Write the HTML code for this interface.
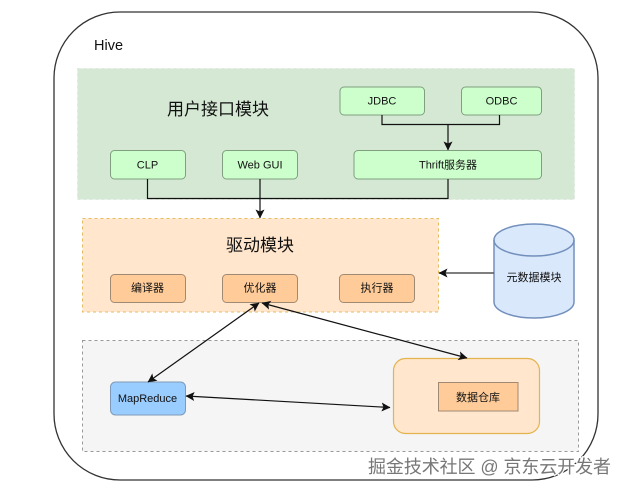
<!DOCTYPE html>
<html>
<head>
<meta charset="utf-8">
<style>
html,body{margin:0;padding:0;background:#fff}
svg{display:block}
text{font-family:"Liberation Sans","Noto Sans CJK SC",sans-serif;fill:#111}
</style>
</head>
<body>
<svg width="625" height="491" viewBox="0 0 625 491" xmlns="http://www.w3.org/2000/svg">
<defs>
<marker id="a" markerWidth="10" markerHeight="10" refX="8.500" refY="4.500" orient="auto-start-reverse" markerUnits="userSpaceOnUse">
<path d="M0 0L9 4.500L0 9L2 4.500Z" fill="#111"/>
</marker>
</defs>
<rect x="0" y="0" width="625" height="491" fill="#fff"/>
<rect x="54" y="12" width="544" height="468" rx="66" ry="66" fill="#fff" stroke="#333" stroke-width="1.300"/>
<text x="94" y="50" font-size="14.500">Hive</text>

<rect x="77.500" y="68.500" width="497" height="131" fill="#d5e8d4" stroke="#dfe9de" stroke-dasharray="3 3"/>
<text x="218" y="115" font-size="17" text-anchor="middle">用户接口模块</text>
<g fill="#ccffcc" stroke="#7f9f7f" stroke-width="1">
<rect x="110.500" y="150.500" width="75" height="28.500" rx="4"/>
<rect x="222.500" y="150.500" width="75" height="28.500" rx="4"/>
<rect x="340" y="87" width="84.500" height="28" rx="4"/>
<rect x="461.500" y="87" width="80" height="28" rx="4"/>
<rect x="354" y="150.500" width="187.500" height="28.500" rx="4"/>
</g>
<g font-size="11" text-anchor="middle">
<text x="147.500" y="168.500">CLP</text>
<text x="260" y="168.500">Web GUI</text>
<text x="382" y="104.500">JDBC</text>
<text x="501.500" y="104.500">ODBC</text>
<text x="448" y="168.500">Thrift服务器</text>
</g>

<rect x="82.500" y="218.500" width="356" height="93.500" fill="#ffe6cc" stroke="#e5bc62" stroke-dasharray="3 3"/>
<text x="260" y="251" font-size="17" text-anchor="middle">驱动模块</text>
<g fill="#ffcc99" stroke="#a08a74" stroke-width="1">
<rect x="110.500" y="274.500" width="75" height="28" rx="4"/>
<rect x="222.500" y="274.500" width="75" height="28" rx="4"/>
<rect x="339.500" y="274.500" width="75" height="28" rx="4"/>
</g>
<g font-size="11" text-anchor="middle">
<text x="147.500" y="291.500">编译器</text>
<text x="260" y="291.500">优化器</text>
<text x="377" y="291.500">执行器</text>
</g>

<path d="M494 240A40 16 0 0 1 574 240V302A40 16 0 0 1 494 302Z" fill="#dae8fc" stroke="#7390bd" stroke-width="1.500"/>
<path d="M494 240A40 16 0 0 0 574 240" fill="none" stroke="#7390bd" stroke-width="1.500"/>
<text x="534" y="281" font-size="11" text-anchor="middle">元数据模块</text>

<rect x="82.500" y="340.500" width="496" height="111" fill="#f5f5f5" stroke="#999" stroke-dasharray="3 3"/>
<rect x="110.500" y="382" width="75" height="33" rx="5" fill="#99ccff" stroke="#7f9ab8"/>
<text x="147.500" y="402" font-size="11" text-anchor="middle">MapReduce</text>
<rect x="393.500" y="358.500" width="146" height="75" rx="12" fill="#ffe6cc" stroke="#e3b450" stroke-width="1.200"/>
<rect x="438.500" y="382.500" width="79.500" height="28.500" fill="#ffcc99" stroke="#a08a74"/>
<text x="478" y="401" font-size="11" text-anchor="middle">数据仓库</text>

<g fill="none" stroke="#111" stroke-width="1.200">
<path d="M147.500 179V198.500H448V179"/>
<path d="M260 179V218" marker-end="url(#a)"/>
<path d="M382 115V124.500H499.500V115"/>
<path d="M448 124.500V150" marker-end="url(#a)"/>
<path d="M494 273H439" stroke="#555" stroke-width="1.400" marker-end="url(#a)"/>
<path d="M259 303L148 382" marker-start="url(#a)" marker-end="url(#a)"/>
<path d="M262 303L467 358" marker-start="url(#a)" marker-end="url(#a)"/>
<path d="M186 396L390 407.500" marker-start="url(#a)" marker-end="url(#a)"/>
</g>

<text x="368" y="473" font-size="18" textLength="243" lengthAdjust="spacing" style="fill:#777;stroke:#fff;stroke-width:2.500px;paint-order:stroke">掘金技术社区 @ 京东云开发者</text>
</svg>
</body>
</html>
